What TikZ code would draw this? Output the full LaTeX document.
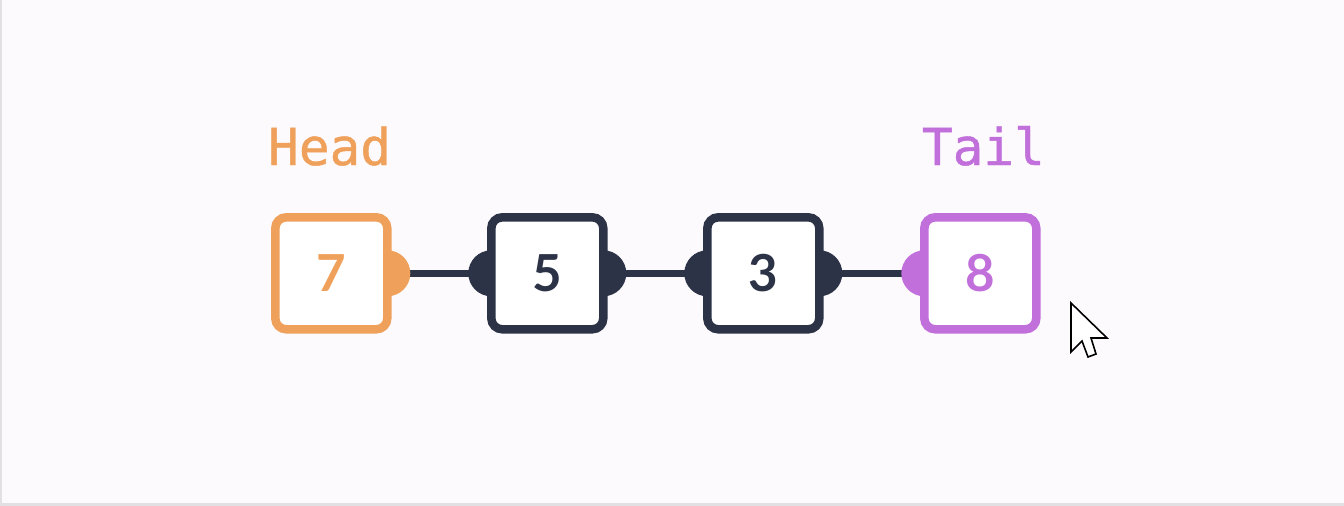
\documentclass[tikz,border=0pt]{standalone}
\usepackage{fontspec}
\setmainfont{Lato}
\setmonofont[FakeBold=0.9]{DejaVu Sans Mono}
\usetikzlibrary{positioning,backgrounds}

\definecolor{headorange}{HTML}{EFA05B}
\definecolor{tailpurple}{HTML}{C16FDB}
\definecolor{navy}{HTML}{2C3347}
\definecolor{pagebg}{HTML}{FDFAFD}
\definecolor{framegray}{HTML}{E2E0E2}

\tikzset{
  cell/.style={draw, rounded corners=11pt, line width=8.5pt, fill=white,
    minimum width=112pt, minimum height=112pt, inner sep=0pt, outer sep=0pt,
    font=\fontsize{51}{51}\selectfont\bfseries},
  tag/.style={inner sep=0pt, font=\fontsize{51}{51}\selectfont\ttfamily},
  link/.style={draw=navy, line width=7pt}
}

\begin{document}
\begin{tikzpicture}[x=1pt,y=-1pt]
  \useasboundingbox (0,0) rectangle (1344,506);

  % Define the cells of the list
  \node[cell, draw=headorange, text=headorange] (n7) at (331.3,273.3) {7};
  \node[cell, draw=navy, text=navy, right=104pt of n7] (n5) {5};
  \node[cell, draw=navy, text=navy, right=104pt of n5] (n3) {3};
  \node[cell, draw=tailpurple, text=tailpurple, right=105pt of n3] (n8) {8};

  % Head and tail labels
  \node[tag, text=headorange, anchor=base west] (head) at (268,165) {Head};
  \node[tag, text=tailpurple, anchor=base east] (tail) at (1045,165) {Tail};

  % Links and their knobs, behind the cells
  \begin{scope}[on background layer]
    \fill[pagebg] (0,0) rectangle (1344,506);
    \draw[framegray, line width=3pt] (0.75,0) -- (0.75,504.5) -- (1344,504.5);
    \draw[link] (n7.east) -- (n5.west);
    \draw[link] (n5.east) -- (n3.west);
    \draw[link] (n3.east) -- (n8.west);
    \fill[headorange] (n7.east) circle[radius=23];
    \fill[navy] (n5.west) circle[radius=23];
    \fill[navy] (n5.east) circle[radius=23];
    \fill[navy] (n3.west) circle[radius=23];
    \fill[navy] (n3.east) circle[radius=23];
    \fill[tailpurple] (n8.west) circle[radius=23];
  \end{scope}

  % Mouse pointer
  \filldraw[fill=white, draw=black, line width=1.6pt, line join=miter]
    (1071,303) -- (1071,352) -- (1082,341) -- (1088,357) -- (1096,354)
    -- (1091,338) -- (1107,338) -- cycle;
\end{tikzpicture}
\end{document}
